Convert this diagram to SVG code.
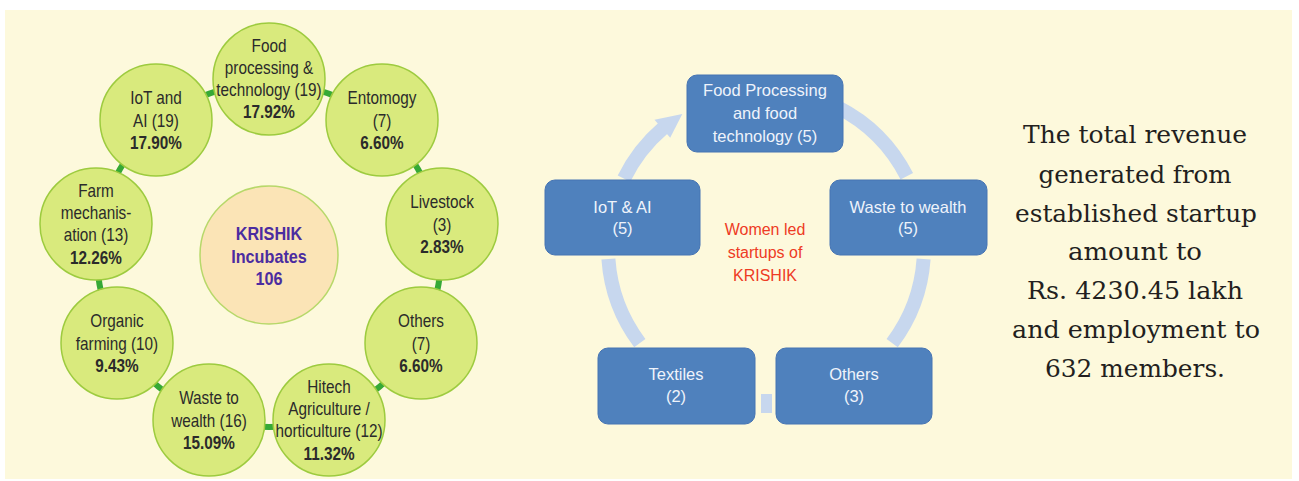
<svg xmlns="http://www.w3.org/2000/svg" width="1299" height="481" viewBox="0 0 1299 481">
<defs>
<style>
.bg{fill:#fdf9dc}
.node{fill:#d9ea7d;stroke:#9dcb3f;stroke-width:1.5}
.hub{fill:#fbe4b6;stroke:#b7d86a;stroke-width:1.5}
.ring{fill:none;stroke:#36a936;stroke-width:6}
.nt{font-family:"Liberation Sans",Arial,sans-serif;font-size:18px;fill:#2b2b2b;text-anchor:middle}
.nb{font-weight:bold}
.ht{font-family:"Liberation Sans",Arial,sans-serif;font-size:18px;font-weight:bold;fill:#4b2ca0;text-anchor:middle}
.box{fill:#4f81bd;stroke:#4674b3;stroke-width:1}
.bt{font-family:"Liberation Sans",Arial,sans-serif;font-size:16.5px;fill:#eef3fb;text-anchor:middle}
.arc{fill:none;stroke:#c7d7ee;stroke-width:14}
.arch{fill:#c7d7ee}
.rt{font-family:"Liberation Sans",Arial,sans-serif;font-size:16px;fill:#ee3b24;text-anchor:middle}
.st{font-family:"DejaVu Serif","Liberation Serif",serif;font-size:24px;fill:#231f20;text-anchor:middle}
</style>
</defs>
<rect x="0" y="0" width="1299" height="481" fill="#ffffff"/>
<rect class="bg" x="5" y="10" width="1287" height="469"/>

<!-- left ring connectors -->
<g id="connectors-left">
<path class="ring" d="M190.9,101.7 A172,172 0 0 1 230.3,87.4"/>
<path class="ring" d="M307.7,87.4 A172,172 0 0 1 347.1,101.7"/>
<path class="ring" d="M406.4,151.5 A172,172 0 0 1 427.3,187.8"/>
<path class="ring" d="M440.8,264.0 A172,172 0 0 1 433.5,305.3"/>
<path class="ring" d="M394.8,372.3 A172,172 0 0 1 362.7,399.3"/>
<path class="ring" d="M290.0,425.7 A172,172 0 0 1 248.0,425.7"/>
<path class="ring" d="M175.3,399.3 A172,172 0 0 1 143.2,372.3"/>
<path class="ring" d="M104.5,305.3 A172,172 0 0 1 97.2,264.0"/>
<path class="ring" d="M110.7,187.8 A172,172 0 0 1 131.6,151.5"/>
</g>

<g id="hub" transform="translate(269,255)">
<circle class="hub" cx="0" cy="0" r="69"/>
<g transform="scale(0.9,1)">
<text class="ht" x="0" y="-15">KRISHIK</text>
<text class="ht" x="0" y="8">Incubates</text>
<text class="ht" x="0" y="30">106</text>
</g>
</g>

<g id="n-food" transform="translate(269,79)">
<circle class="node" r="56"/>
<g transform="scale(0.85,1)">
<text class="nt" y="-27">Food</text>
<text class="nt" y="-5">processing &amp;</text>
<text class="nt" y="17">technology (19)</text>
<text class="nt nb" y="39.5">17.92%</text>
</g>
</g>

<g id="n-entomogy" transform="translate(382,120)">
<circle class="node" r="56"/>
<g transform="scale(0.85,1)">
<text class="nt" y="-16">Entomogy</text>
<text class="nt" y="6.5">(7)</text>
<text class="nt nb" y="29">6.60%</text>
</g>
</g>

<g id="n-livestock" transform="translate(442,224)">
<circle class="node" r="56"/>
<g transform="scale(0.85,1)">
<text class="nt" y="-16">Livestock</text>
<text class="nt" y="6.5">(3)</text>
<text class="nt nb" y="29">2.83%</text>
</g>
</g>

<g id="n-others" transform="translate(421,343)">
<circle class="node" r="56"/>
<g transform="scale(0.85,1)">
<text class="nt" y="-16">Others</text>
<text class="nt" y="6.5">(7)</text>
<text class="nt nb" y="29">6.60%</text>
</g>
</g>

<g id="n-hitech" transform="translate(329,420)">
<circle class="node" r="56"/>
<g transform="scale(0.85,1)">
<text class="nt" y="-27">Hitech</text>
<text class="nt" y="-5">Agriculture /</text>
<text class="nt" y="17.5">horticulture (12)</text>
<text class="nt nb" y="40">11.32%</text>
</g>
</g>

<g id="n-waste" transform="translate(209,420)">
<circle class="node" r="56"/>
<g transform="scale(0.85,1)">
<text class="nt" y="-16">Waste to</text>
<text class="nt" y="6.5">wealth (16)</text>
<text class="nt nb" y="29">15.09%</text>
</g>
</g>

<g id="n-organic" transform="translate(117,343)">
<circle class="node" r="56"/>
<g transform="scale(0.85,1)">
<text class="nt" y="-16">Organic</text>
<text class="nt" y="6.5">farming (10)</text>
<text class="nt nb" y="29">9.43%</text>
</g>
</g>

<g id="n-farm" transform="translate(96,224)">
<circle class="node" r="56"/>
<g transform="scale(0.85,1)">
<text class="nt" y="-27.5">Farm</text>
<text class="nt" y="-5">mechanis-</text>
<text class="nt" y="17.5">ation (13)</text>
<text class="nt nb" y="40">12.26%</text>
</g>
</g>

<g id="n-iot" transform="translate(156,120)">
<circle class="node" r="56"/>
<g transform="scale(0.85,1)">
<text class="nt" y="-16">IoT and</text>
<text class="nt" y="6.5">AI (19)</text>
<text class="nt nb" y="29">17.90%</text>
</g>
</g>

<!-- middle cycle connectors -->
<g id="connectors-cycle">
<path class="arc" d="M624.0,178.7 A158,158 0 0 1 663.4,127.9"/>
<polygon class="arch" points="654.5,119.7 682.3,114.0 670.2,137.8"/>
<path class="arc" d="M837.7,107.2 A158,158 0 0 1 906.8,176.3"/>
<path class="arc" d="M923.6,259.0 A158,158 0 0 1 892.2,343.1"/>
<rect class="arch" x="761" y="394" width="11" height="19"/>
<path class="arc" d="M639.8,343.1 A158,158 0 0 1 608.4,259.0"/>
</g>

<g id="b-food">
<rect class="box" x="687" y="75" width="156" height="77" rx="10"/>
<text class="bt" x="765" y="96">Food Processing</text>
<text class="bt" x="765" y="119">and food</text>
<text class="bt" x="765" y="141.5">technology (5)</text>
</g>

<g id="b-waste">
<rect class="box" x="830" y="180" width="157" height="75" rx="10"/>
<text class="bt" x="908" y="212.5">Waste to wealth</text>
<text class="bt" x="908" y="234">(5)</text>
</g>

<g id="b-others">
<rect class="box" x="776" y="348" width="156" height="76" rx="10"/>
<text class="bt" x="854" y="379.5">Others</text>
<text class="bt" x="854" y="402">(3)</text>
</g>

<g id="b-textiles">
<rect class="box" x="598" y="348" width="157" height="76" rx="10"/>
<text class="bt" x="676" y="379.5">Textiles</text>
<text class="bt" x="676" y="402">(2)</text>
</g>

<g id="b-iot">
<rect class="box" x="545" y="180" width="155" height="75" rx="10"/>
<text class="bt" x="622.5" y="212.5">IoT &amp; AI</text>
<text class="bt" x="622.5" y="234">(5)</text>
</g>

<g id="cycle-title">
<text class="rt" x="765" y="235">Women led</text>
<text class="rt" x="765" y="258">startups of</text>
<text class="rt" x="765" y="281">KRISHIK</text>
</g>

<g id="summary">
<text class="st" x="1135" y="143" textLength="224" lengthAdjust="spacingAndGlyphs">The total revenue</text>
<text class="st" x="1135" y="182.5" textLength="193" lengthAdjust="spacingAndGlyphs">generated from</text>
<text class="st" x="1136" y="221.5" textLength="242" lengthAdjust="spacingAndGlyphs">established startup</text>
<text class="st" x="1135" y="260" textLength="134" lengthAdjust="spacingAndGlyphs">amount to</text>
<text class="st" x="1135" y="299" textLength="216" lengthAdjust="spacingAndGlyphs">Rs. 4230.45 lakh</text>
<text class="st" x="1136" y="337.5" textLength="248" lengthAdjust="spacingAndGlyphs">and employment to</text>
<text class="st" x="1135" y="376.5" textLength="180" lengthAdjust="spacingAndGlyphs">632 members.</text>
</g>
</svg>
